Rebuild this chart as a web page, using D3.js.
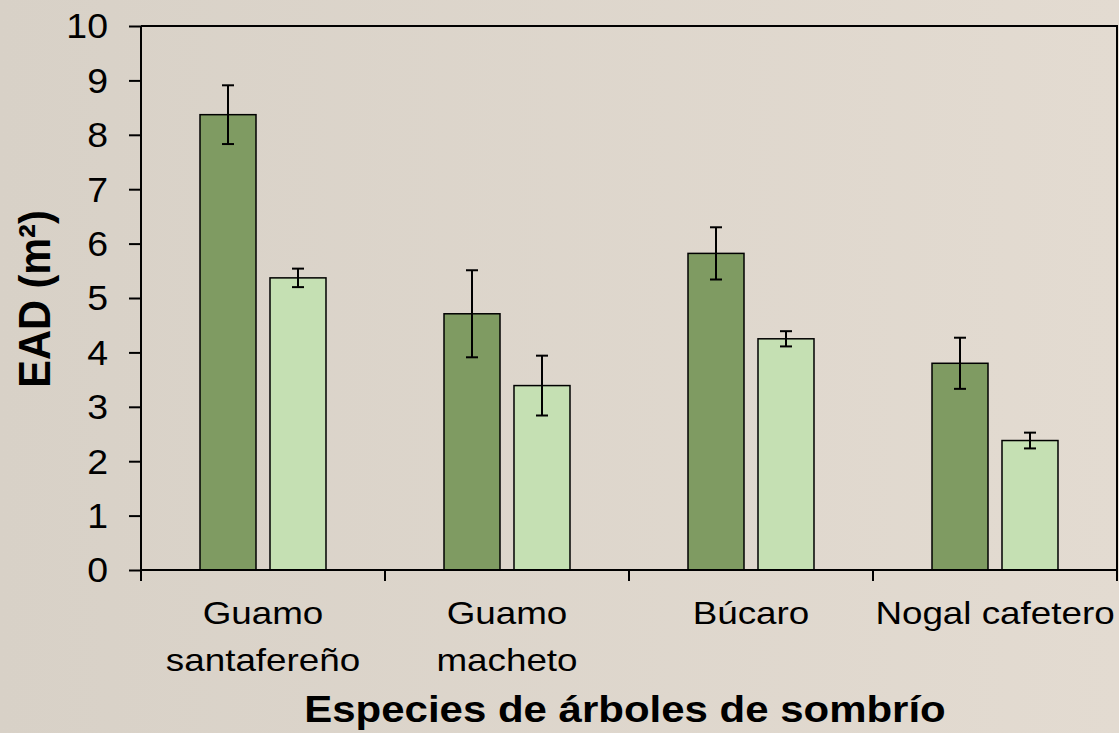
<!DOCTYPE html>
<html>
<head>
<meta charset="utf-8">
<script src="https://cdn.jsdelivr.net/npm/d3@7"></script>
<style>
  body { margin: 0; padding: 0; overflow: hidden; }
  svg { display: block; }
</style>
</head>
<body>
<div id="chart-area"></div>
<script>
// data
var categories = [["Guamo", "santafereño"], ["Guamo", "macheto"], ["Búcaro"], ["Nogal cafetero"]];
var series = ["a", "b"];
var darkValues = [8.37, 4.71, 5.82, 3.80];
var darkErrors = [0.54, 0.80, 0.48, 0.47];
var lightValues = [5.37, 3.39, 4.25, 2.38];
var lightErrors = [0.17, 0.55, 0.14, 0.145];
var yTicks = [0, 1, 2, 3, 4, 5, 6, 7, 8, 9, 10];
var colors = ["#7f9b62", "#c5e0b3"];

var width = 1119, height = 733;
var margin = {top: 26, right: 2, bottom: 163, left: 141};
var font = "'Liberation Sans', Arial, sans-serif";
var stretch = 1.15; // text in the picture is a bit wider than plain Arial
var tickStretch = 1.07;

var svg = d3.select("#chart-area")
    .append("svg")
    .attr("width", width)
    .attr("height", height);

var defs = svg.append("defs");
var grad = defs.append("linearGradient")
    .attr("id", "bg")
    .attr("x1", "0%").attr("x2", "100%")
    .attr("y1", "0%").attr("y2", "0%");
grad.append("stop").attr("offset", "0%").attr("stop-color", "#d8d1c7");
grad.append("stop").attr("offset", "100%").attr("stop-color", "#e3dbd1");

svg.append("rect")
    .attr("width", width)
    .attr("height", height)
    .attr("fill", "url(#bg)");

var keys = categories.map(function(d){ return d.join(" "); });

var x0 = d3.scaleBand()
    .domain(keys)
    .range([margin.left, width - margin.right])
    .padding(0);

var x1 = d3.scaleBand()
    .domain(series)
    .range([0, x0.bandwidth()])
    .paddingInner(0.2)
    .paddingOuter(0.843);

var y = d3.scaleLinear()
    .domain([0, 10])
    .range([height - margin.bottom, margin.top]);

var rows = keys.map(function(k, i){
  return [
    {key: k, s: "a", v: darkValues[i], e: darkErrors[i], c: colors[0]},
    {key: k, s: "b", v: lightValues[i], e: lightErrors[i], c: colors[1]}
  ];
});
var flat = d3.merge(rows);

// plot frame (top and right)
svg.append("path")
    .attr("d", "M" + margin.left + "," + y(10) + "H" + (width - margin.right) + "V" + y(0))
    .attr("fill", "none")
    .attr("stroke", "#000")
    .attr("stroke-width", 2);

// bars
svg.selectAll(".bar")
    .data(flat)
    .enter()
    .append("rect")
      .attr("class", "bar")
      .attr("x", function(d){ return x0(d.key) + x1(d.s); })
      .attr("y", function(d){ return y(d.v); })
      .attr("width", x1.bandwidth())
      .attr("height", function(d){ return y(0) - y(d.v); })
      .attr("fill", function(d){ return d.c; })
      .attr("stroke", "#000")
      .attr("stroke-width", 1.5);

// error bars
var eb = svg.selectAll(".err")
    .data(flat)
    .enter()
    .append("g")
      .attr("class", "err")
      .attr("stroke", "#000")
      .attr("stroke-width", 2);

eb.append("line")
    .attr("x1", function(d){ return x0(d.key) + x1(d.s) + x1.bandwidth() / 2; })
    .attr("x2", function(d){ return x0(d.key) + x1(d.s) + x1.bandwidth() / 2; })
    .attr("y1", function(d){ return y(d.v + d.e); })
    .attr("y2", function(d){ return y(d.v - d.e); });

[1, -1].forEach(function(sign){
  eb.append("line")
      .attr("x1", function(d){ return x0(d.key) + x1(d.s) + x1.bandwidth() / 2 - 6; })
      .attr("x2", function(d){ return x0(d.key) + x1(d.s) + x1.bandwidth() / 2 + 6; })
      .attr("y1", function(d){ return y(d.v + sign * d.e); })
      .attr("y2", function(d){ return y(d.v + sign * d.e); });
});

// y axis
var yAxisCall = d3.axisLeft(y)
    .tickValues(yTicks)
    .tickSize(12)
    .tickFormat(function(d){ return d; });

var yAxisGroup = svg.append("g")
    .attr("transform", "translate(" + margin.left + ",0)")
    .call(yAxisCall);

yAxisGroup.select(".domain")
    .attr("d", "M0," + y(10) + "V" + y(0))
    .attr("stroke-width", 2);
yAxisGroup.selectAll(".tick line").attr("stroke-width", 2);
yAxisGroup.selectAll(".tick text")
    .attr("font-family", font)
    .attr("font-size", "35px")
    .attr("fill", "#000")
    .attr("x", -33 / tickStretch)
    .attr("dy", "0.34em")
    .attr("transform", "scale(" + tickStretch + ",1)");

// x axis
var xAxisGroup = svg.append("g")
    .attr("transform", "translate(0," + y(0) + ")");

xAxisGroup.append("line")
    .attr("x1", margin.left).attr("x2", width - margin.right)
    .attr("stroke", "#000").attr("stroke-width", 2);

var xTickPos = keys.map(function(k){ return x0(k); }).concat([x0(keys[keys.length - 1]) + x0.bandwidth()]);
xAxisGroup.selectAll(".xtick")
    .data(xTickPos)
    .enter()
    .append("line")
      .attr("class", "xtick")
      .attr("x1", function(d){ return d; })
      .attr("x2", function(d){ return d; })
      .attr("y1", 0).attr("y2", 11)
      .attr("stroke", "#000").attr("stroke-width", 2);

// category labels
var catLabels = svg.selectAll(".cat")
    .data(categories)
    .enter()
    .append("text")
      .attr("class", "cat")
      .attr("text-anchor", "middle")
      .attr("font-family", font)
      .attr("font-size", "32px")
      .attr("fill", "#000")
      .attr("transform", function(d, i){
        return "translate(" + (x0(keys[i]) + x0.bandwidth() / 2) + ",624) scale(" + stretch + ",1)";
      });

catLabels.selectAll("tspan")
    .data(function(d){ return d; })
    .enter()
    .append("tspan")
      .attr("x", 0)
      .attr("dy", function(d, i){ return i === 0 ? 0 : 47; })
      .text(function(d){ return d; });

// axis titles
svg.append("text")
    .attr("transform", "translate(625,722) scale(" + stretch + ",1)")
    .attr("text-anchor", "middle")
    .attr("font-family", font)
    .attr("font-weight", "bold")
    .attr("font-size", "36.5px")
    .attr("fill", "#000")
    .text("Especies de árboles de sombrío");

svg.append("text")
    .attr("transform", "translate(50,299) rotate(-90) scale(1,1.07)")
    .attr("text-anchor", "middle")
    .attr("font-family", font)
    .attr("font-weight", "bold")
    .attr("font-size", "41.5px")
    .attr("fill", "#000")
    .text("EAD (m²)");
</script>
</body>
</html>
